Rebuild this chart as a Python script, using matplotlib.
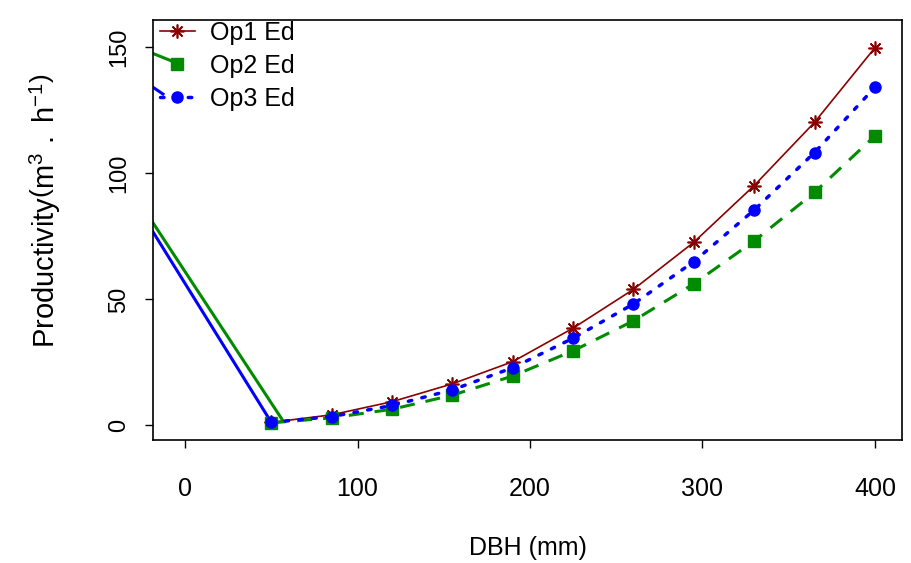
import numpy as np
import matplotlib
matplotlib.use('Agg')
import matplotlib.pyplot as plt
from matplotlib import font_manager
from matplotlib.lines import Line2D

# fonts: reference text looks like a narrow Arial
try:
    font_manager.findfont('Liberation Sans Narrow', fallback_to_default=False)
    hfont, hsize = 'Liberation Sans Narrow', 21
except Exception:
    hfont, hsize = 'Liberation Sans', 18
vfont = 'Liberation Sans'

plt.rcParams['mathtext.fontset'] = 'custom'
plt.rcParams['mathtext.rm'] = vfont
plt.rcParams['mathtext.it'] = vfont

# data
dbh = [50, 85, 120, 155, 190, 225, 260, 295, 330, 365, 400]
op1 = [1.2, 4.2, 9.4, 16.5, 25.3, 38.6, 54.0, 72.7, 95.2, 120.3, 149.9]
op2 = [1.0, 3.0, 6.4, 12.0, 19.6, 29.6, 41.5, 56.2, 73.2, 92.5, 114.9]
op3 = [1.2, 3.5, 7.9, 14.1, 22.9, 34.6, 48.2, 65.0, 85.5, 108.3, 134.2]

# stray solid segments visible in the reference
stray_green_x = [-18.6, 56.4]
stray_green_y = [80.4, 2.2]
stray_blue_x = [-18.6, 50]
stray_blue_y = [76.8, 1.2]
stray_green2_x = [-18.6, -4.3]
stray_green2_y = [147.6, 143.7]
stray_blue2_x = [-18.6, -12.8]
stray_blue2_y = [134.2, 131.5]

red = '#8B0000'
green = '#008B00'
blue = '#0000FF'

fig = plt.figure(figsize=(9.12, 5.63), dpi=100)
ax = fig.add_axes([153/912, 1 - 440/563, 749/912, 420/563])

ax.plot(stray_green_x, stray_green_y, '-', color=green, lw=2.2)
ax.plot(stray_blue_x, stray_blue_y, '-', color=blue, lw=2.2)
ax.plot(stray_green2_x, stray_green2_y, '-', color=green, lw=2.2)
ax.plot(stray_blue2_x, stray_blue2_y, '-', color=blue, lw=2.2)

ax.plot(dbh, op1, '-', color=red, lw=1.2, marker=(8, 2, 0), ms=10, mew=1.2)
ax.plot(dbh, op2, color=green, lw=2.2, dashes=(4.9, 3.6), marker='s', ms=8.5)
ax.plot(dbh, op3, color=blue, lw=2.5, dashes=(1.0, 3.0), dash_capstyle='round',
        marker='o', ms=8)

ax.set_xlim(-18.6, 415.7)
ax.set_ylim(-5.8, 160.9)
ax.set_xticks([0, 100, 200, 300, 400])
ax.set_yticks([0, 50, 100, 150])

for s in ax.spines.values():
    s.set_linewidth(1.2)
ax.tick_params(axis='both', direction='out', length=5.5, width=1.0)
ax.tick_params(axis='x', pad=21)
ax.tick_params(axis='y', pad=11)
for lab in ax.get_xticklabels():
    lab.set_fontfamily(hfont)
    lab.set_fontsize(hsize)
for lab in ax.get_yticklabels():
    lab.set_fontfamily(vfont)
    lab.set_fontsize(17)
    lab.set_rotation(90)
    lab.set_va('center')

ax.set_xlabel('DBH (mm)', family=hfont, fontsize=hsize, va='center')
ax.xaxis.set_label_coords(0.5, -0.257)
ax.set_ylabel(r'Productivity$\left(\mathrm{m}^{3}\ .\ \mathrm{h}^{-1}\right)$',
              family=vfont, fontsize=21, va='center', ha='center')
ax.yaxis.set_label_coords(-0.144, 0.545)

handles = [
    Line2D([], [], color=red, lw=1.2, marker=(8, 2, 0), ms=10, mew=1.2),
    Line2D([], [], color=green, ls='none', marker='s', ms=8.5),
    Line2D([], [], color=blue, lw=2.5, dashes=(1.0, 3.0), dash_capstyle='round',
           marker='o', ms=8),
]
ax.legend(handles, ['Op1 Ed', 'Op2 Ed', 'Op3 Ed'], loc='upper left',
          bbox_to_anchor=(0.0093, 0.9986), frameon=False, borderpad=0,
          borderaxespad=0, handlelength=1.4, handletextpad=0.6,
          labelspacing=0.37, prop={'family': hfont, 'size': hsize})

fig.savefig('out.png', dpi=100)
